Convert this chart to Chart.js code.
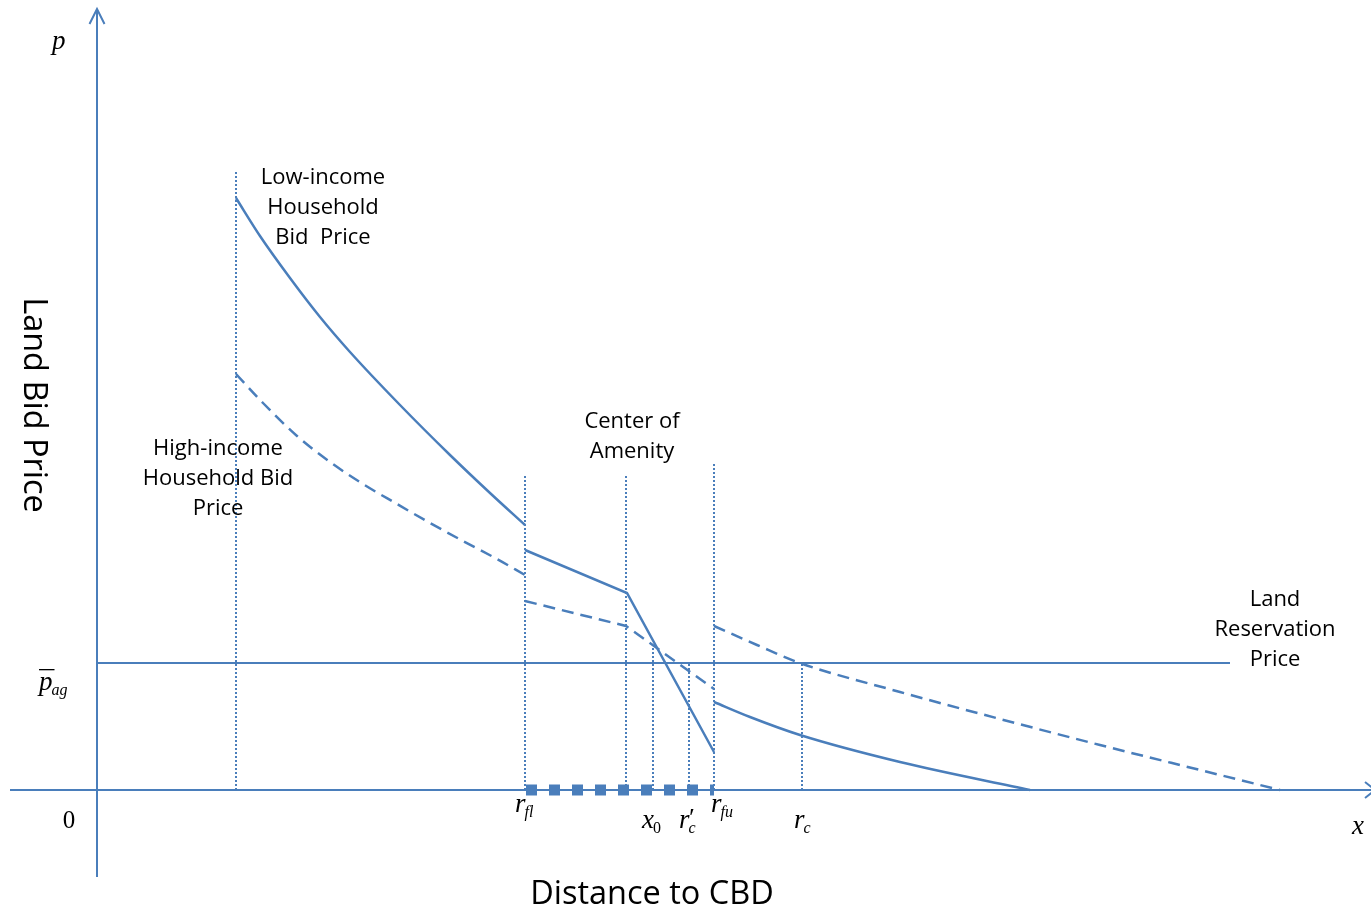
<!DOCTYPE html>
<html>
<head>
<meta charset="utf-8">
<script src="https://cdn.jsdelivr.net/npm/chart.js@4"></script>
<style>
  html, body { margin: 0; padding: 0; background: #fff; }
  #wrap { width: 1371px; height: 916px; position: relative; }
</style>
</head>
<body>
<div id="wrap"><canvas id="bidChart"></canvas></div>
<script>
// Bid rent diagram: distance to CBD (x) vs land bid price (y), origin at 0,0

// low-income household bid price, three pieces
const lowIncomeInner = [[139, 592], [163, 554], [193, 512], [223, 473], [253, 438], [303, 385], [353, 335], [393, 297], [428, 265]];
const lowIncomeAmenity = [[428, 240], [530, 197], [617, 38]];
const lowIncomeOuter = [[617, 88], [653, 73], [703, 55], [803, 28], [933, 0]];

// high-income household bid price, three pieces
const highIncomeInner = [[139, 416], [166, 387], [200, 354], [233, 328], [266, 306], [300, 286], [333, 267], [366, 249], [400, 231], [428, 215]];
const highIncomeAmenity = [[428, 189], [529, 164], [617, 101]];
const highIncomeOuter = [[617, 164], [660, 145], [703, 127], [803, 98], [903, 71], [1003, 45], [1103, 20], [1183, 0]];

// land reservation price (agricultural rent)
const reservationPrice = 127;
const reservationEnd = 1133;

// key distances and where their guide lines stop
const guideX = [139, 428, 529, 556, 592, 617, 705];
const guideTop = [618, 316, 316, 142, 127, 328, 127];

// amenity zone on the axis: r_fl .. r_fu
const zoneStart = 429;
const zoneEnd = 617;

const BLUE = '#4a7ebb';

function pts(arr) {
  return arr.map(p => ({ x: p[0], y: p[1] }));
}

function solid(data, width) {
  return { data: pts(data), borderColor: BLUE, borderWidth: width || 2.5, showLine: true, pointRadius: 0, fill: false, clip: false };
}

function curve(data, dashed) {
  const ds = solid(data, 2.5);
  ds.cubicInterpolationMode = 'monotone';
  if (dashed) ds.borderDash = [12, 7];
  return ds;
}

const datasets = [];

// axes with arrows
datasets.push(solid([[-87, 0], [1276, 0]], 2));
datasets.push(solid([[0, -87], [0, 780]], 2));
datasets.push(solid([[-7.5, 766], [0, 781], [7.5, 766]], 2));
datasets.push(solid([[1268, 8], [1278, 0], [1268, -8]], 2));

// reservation price line
datasets.push(solid([[0, reservationPrice], [reservationEnd, reservationPrice]], 2));

// dotted guides
guideX.forEach((gx, i) => {
  const ds = solid([[gx, 0], [gx, guideTop[i]]], 2);
  ds.borderDash = [2, 2];
  datasets.push(ds);
});

// amenity zone squares on the x axis
const zone = solid([[zoneStart, 0], [zoneEnd, 0]], 11);
zone.borderDash = [11, 12];
zone.borderCapStyle = 'butt';
datasets.push(zone);

// bid price curves
datasets.push(curve(lowIncomeInner, false));
datasets.push(solid(lowIncomeAmenity, 2.5));
datasets.push(curve(lowIncomeOuter, false));
datasets.push(curve(highIncomeInner, true));
const hiMid = solid(highIncomeAmenity, 2.5);
hiMid.borderDash = [12, 7];
datasets.push(hiMid);
datasets.push(curve(highIncomeOuter, true));

// text blocks: [lines, x, y of first line]
const textBlocks = [
  [['Low-income', 'Household', 'Bid  Price'], 226, 612],
  [['High-income', 'Household Bid', 'Price'], 121, 341],
  [['Center of', 'Amenity'], 535, 368],
  [['Land', 'Reservation', 'Price'], 1178, 190]
];

// math labels: [main, sub, x, y(baseline), prime, bar, upright sub]
const mathLabels = [
  ['r', 'fl', 418, -22, false, false, false],
  ['x', '0', 545, -38, false, false, true],
  ['r', 'c', 582, -38, true, false, false],
  ['r', 'fu', 614, -22, false, false, false],
  ['r', 'c', 697, -38, false, false, false],
  ['p', 'ag', -58, 100, false, true, false],
  ['p', '', -45, 741, false, false, false],
  ['x', '', 1255, -44, false, false, false]
];

const textPlugin = {
  id: 'diagramText',
  afterDatasetsDraw(chart) {
    const ctx = chart.ctx;
    const sx = chart.scales.x;
    const sy = chart.scales.y;
    ctx.save();
    ctx.fillStyle = '#000';

    ctx.font = '22px "Open Sans"';
    ctx.textAlign = 'center';
    ctx.textBaseline = 'middle';
    textBlocks.forEach(b => {
      const px = sx.getPixelForValue(b[1]);
      let py = sy.getPixelForValue(b[2]);
      b[0].forEach(line => {
        ctx.fillText(line, px, py);
        py += 30;
      });
    });

    // axis titles
    ctx.font = '32.5px "Open Sans"';
    ctx.fillText('Distance to CBD', sx.getPixelForValue(555), sy.getPixelForValue(-105));
    ctx.save();
    ctx.translate(sx.getPixelForValue(-64), sy.getPixelForValue(385));
    ctx.rotate(Math.PI / 2);
    ctx.fillText('Land Bid Price', 0, 0);
    ctx.restore();

    // origin
    ctx.font = '25px "Liberation Serif"';
    ctx.textBaseline = 'alphabetic';
    ctx.fillText('0', sx.getPixelForValue(-28), sy.getPixelForValue(-38));

    ctx.textAlign = 'left';
    mathLabels.forEach(m => {
      const px = sx.getPixelForValue(m[2]);
      const py = sy.getPixelForValue(m[3]);
      ctx.font = 'italic 27px "Liberation Serif"';
      ctx.fillText(m[0], px, py);
      const w = ctx.measureText(m[0]).width;
      if (m[5]) {
        ctx.fillRect(px, py - 21, w + 2, 1.3);
      }
      if (m[4]) {
        ctx.font = 'italic 26px "Liberation Serif"';
        ctx.fillText('\u2032', px + w - 2, py - 2);
      }
      if (m[1]) {
        ctx.font = (m[6] ? '' : 'italic ') + '16px "Liberation Serif"';
        ctx.fillText(m[1], px + w - 1, py + 5);
      }
    });
    ctx.restore();
  }
};

new Chart(document.getElementById('bidChart'), {
  type: 'scatter',
  data: { datasets: datasets },
  options: {
    responsive: true,
    maintainAspectRatio: false,
    animation: false,
    devicePixelRatio: 1,
    events: [],
    layout: { padding: 0 },
    plugins: { legend: { display: false }, tooltip: { enabled: false } },
    scales: {
      x: { type: 'linear', min: -97, max: 1274, display: false },
      y: { type: 'linear', min: -126, max: 790, display: false }
    }
  },
  plugins: [textPlugin]
});
</script>
</body>
</html>
